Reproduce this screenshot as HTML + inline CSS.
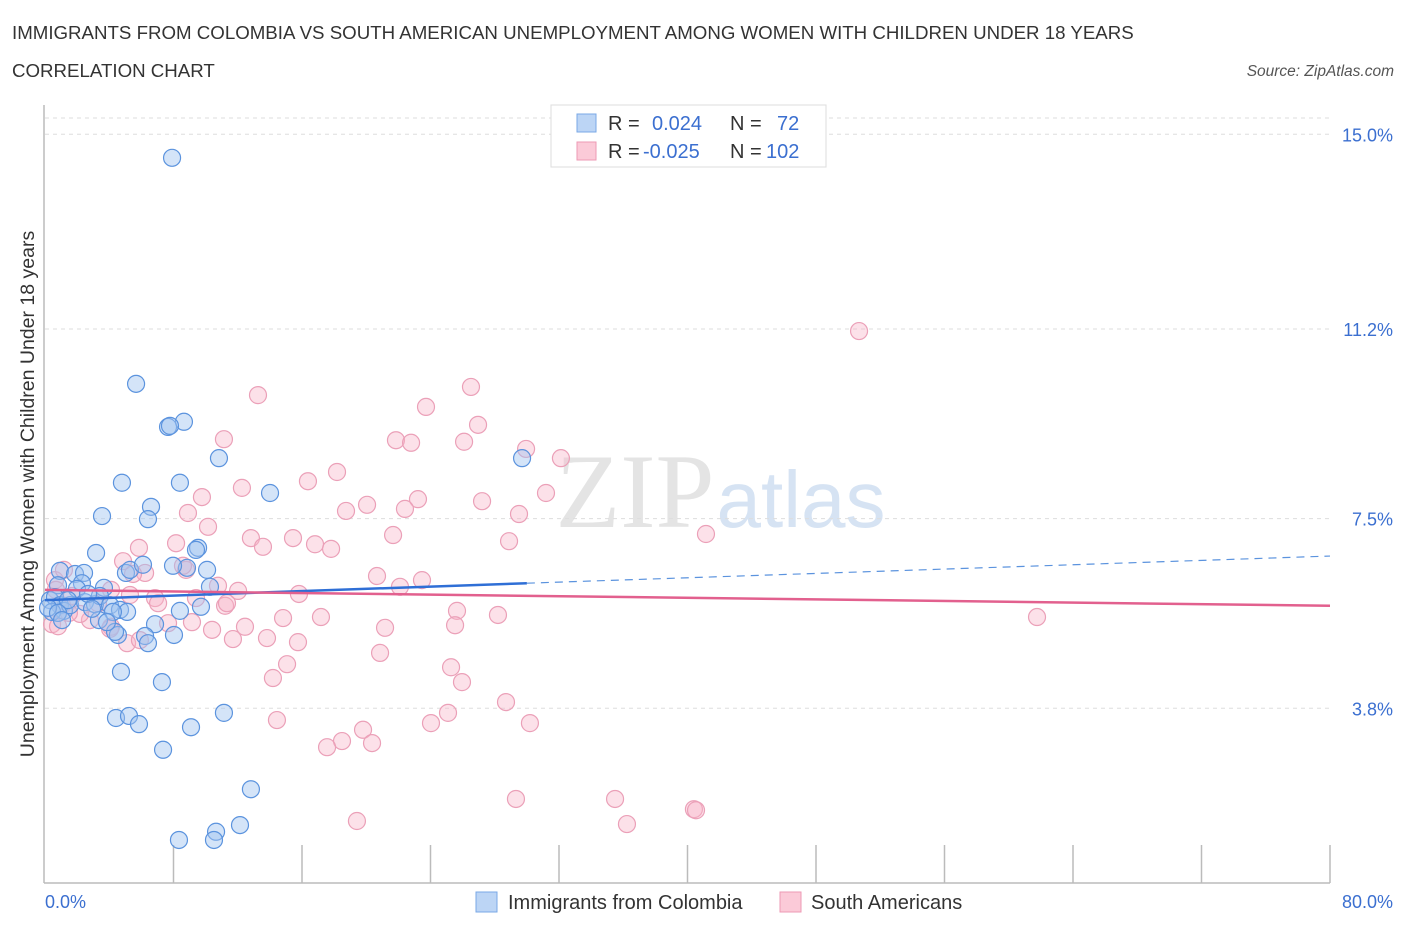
<!DOCTYPE html>
<html><head><meta charset="utf-8"><style>
body{margin:0;background:#fff;width:1406px;height:930px;overflow:hidden;font-family:"Liberation Sans",sans-serif}
svg{display:block}
</style></head><body>
<svg id="c" width="1406" height="930">
<text x="12" y="39" font-size="18.7" fill="#333">IMMIGRANTS FROM COLOMBIA VS SOUTH AMERICAN UNEMPLOYMENT AMONG WOMEN WITH CHILDREN UNDER 18 YEARS</text>
<text x="12" y="77" font-size="18.7" fill="#333">CORRELATION CHART</text>
<text x="1394" y="76" font-size="15.5" fill="#555" font-style="italic" text-anchor="end">Source: ZipAtlas.com</text>
<text x="635" y="527" font-size="106" fill="#e4e4e4" font-family="Liberation Serif,serif" text-anchor="middle">ZIP</text>
<text x="801" y="527" font-size="80" fill="#d6e3f3" text-anchor="middle">atlas</text>
<text transform="translate(34,494) rotate(-90)" font-size="19.5" fill="#333" text-anchor="middle">Unemployment Among Women with Children Under 18 years</text>
<g id="grid"></g><g id="marks"></g>
<g>
<rect x="551" y="105" width="275" height="62" fill="#fff" stroke="#ddd"/>
<rect x="577" y="114" width="19" height="18" fill="#bcd5f5" stroke="#7aa8e6"/>
<rect x="577" y="142" width="19" height="18" fill="#fbcad8" stroke="#ee9ab4"/>
<text x="608" y="130" font-size="20" fill="#333">R =</text><text x="652" y="130" font-size="20" fill="#3b6fd0">0.024</text>
<text x="730" y="130" font-size="20" fill="#333">N =</text><text x="777" y="130" font-size="20" fill="#3b6fd0">72</text>
<text x="608" y="158" font-size="20" fill="#333">R =</text><text x="643" y="158" font-size="20" fill="#3b6fd0">-0.025</text>
<text x="730" y="158" font-size="20" fill="#333">N =</text><text x="766" y="158" font-size="20" fill="#3b6fd0">102</text>
</g>
<g>
<rect x="476" y="892" width="21" height="20" fill="#bcd5f5" stroke="#7aa8e6"/>
<text x="508" y="909" font-size="20" fill="#333">Immigrants from Colombia</text>
<rect x="780" y="892" width="21" height="20" fill="#fbcad8" stroke="#ee9ab4"/>
<text x="811" y="909" font-size="20" fill="#333">South Americans</text>
</g>
</svg>
<script>
const yTicks=[3.8,7.5,11.2,15.0];
const yTickLabels=["3.8%","7.5%","11.2%","15.0%"];
const xTickLabels=["0.0%","80.0%"];
const bluePx=[[172,158],[136,384],[184,422],[168,427],[170,426],[219,458],[122,483],[180,483],[270,493],[151,507],[102,516],[148,519],[96,553],[198,548],[196,550],[60,571],[75,574],[84,573],[126,573],[130,570],[143,565],[187,568],[173,566],[207,570],[210,587],[104,588],[82,583],[77,589],[58,585],[50,600],[55,597],[60,605],[64,611],[70,605],[85,602],[95,604],[100,596],[110,605],[120,610],[127,612],[113,612],[180,611],[201,607],[155,624],[118,635],[115,632],[145,636],[148,643],[174,635],[121,672],[162,682],[116,718],[129,716],[139,724],[191,727],[224,713],[163,750],[251,789],[179,840],[216,832],[214,840],[240,825],[522,458],[52,612],[48,608],[88,594],[68,600],[99,620],[107,622],[58,613],[62,620],[92,609]];
const pinkPx=[[859,331],[258,395],[471,387],[426,407],[478,425],[224,439],[396,440],[411,443],[464,442],[526,449],[561,458],[337,472],[242,488],[308,481],[546,493],[202,497],[418,499],[482,501],[367,505],[405,509],[346,511],[188,513],[519,514],[208,527],[706,534],[393,535],[293,538],[251,538],[263,547],[315,544],[331,549],[509,541],[139,548],[176,543],[123,561],[145,573],[186,570],[183,566],[377,576],[422,580],[400,587],[299,594],[238,591],[111,590],[155,598],[158,603],[225,606],[227,603],[196,598],[283,618],[321,617],[457,611],[498,615],[1037,617],[98,603],[90,620],[80,614],[69,613],[62,605],[52,624],[58,626],[111,627],[110,629],[192,622],[212,630],[245,627],[385,628],[455,625],[233,639],[267,638],[298,642],[127,643],[140,640],[380,653],[287,664],[451,667],[462,682],[273,678],[506,702],[448,713],[277,720],[431,723],[530,723],[363,730],[342,741],[372,743],[327,747],[516,799],[615,799],[694,809],[696,810],[357,821],[627,824],[55,580],[64,570],[56,590],[72,596],[130,595],[168,623],[218,586],[133,574]];
const blueX=bluePx.map(p=>+((p[0]-45)/16.0625).toFixed(2));
const blueY=bluePx.map(p=>+((903-p[1])/51.25).toFixed(2));
const pinkX=pinkPx.map(p=>+((p[0]-45)/16.0625).toFixed(2));
const pinkY=pinkPx.map(p=>+((903-p[1])/51.25).toFixed(2));
const blueTrend=[5.91,6.24,6.77];
const pinkTrend=[6.11,5.8];
const sx=v=>45+v*16.0625, sy=v=>903-v*51.25;
const NS="http://www.w3.org/2000/svg";
function mk(tag,at,parent){const e=document.createElementNS(NS,tag);for(const k in at)e.setAttribute(k,at[k]);parent.appendChild(e);return e;}
const g=document.getElementById('grid'),m=document.getElementById('marks');
yTicks.forEach((t,i)=>{
 const l=mk('line',{x1:45,x2:1330,y1:sy(t),y2:sy(t),stroke:'#ddd','stroke-dasharray':'4,4'},g);
 
 
 const tx=mk('text',{x:1393,y:sy(t)+7,'font-size':18,fill:'#3b6fd0','text-anchor':'end'},g);tx.textContent=yTickLabels[i];
 
 
});
mk('line',{x1:45,x2:1330,y1:118,y2:118,stroke:'#ddd','stroke-dasharray':'4,4'},g);
mk('line',{x1:44,x2:44,y1:105,y2:883,stroke:'#bbb','stroke-width':1.5},g);
mk('line',{x1:44,x2:1330,y1:883,y2:883,stroke:'#bbb','stroke-width':1.5},g);
for(let i=1;i<=10;i++){const x=sx(i*8);const t=mk('line',{x1:x,x2:x,y1:845,y2:883,stroke:'#bbb','stroke-width':1.5},g);
 
 }
const xl0=mk('text',{x:45,y:908,'font-size':18,fill:'#3b6fd0'},g);xl0.textContent=xTickLabels[0];


const xl1=mk('text',{x:1393,y:908,'font-size':18,fill:'#3b6fd0','text-anchor':'end'},g);xl1.textContent=xTickLabels[1];


pinkX.forEach((x,i)=>{const c=mk('circle',{cx:sx(x),cy:sy(pinkY[i]),r:8.5,fill:'rgba(248,180,200,0.4)',stroke:'#eba0b8','stroke-width':1.2},m);
 
 });
blueX.forEach((x,i)=>{const c=mk('circle',{cx:sx(x),cy:sy(blueY[i]),r:8.5,fill:'rgba(160,195,240,0.45)',stroke:'#5b93de','stroke-width':1.2},m);
 
 });
const bl=mk('line',{x1:sx(0),y1:sy(blueTrend[0]),x2:sx(30),y2:sy(blueTrend[1]),stroke:'#2f6fd6','stroke-width':2.5},m);


const bd=mk('line',{x1:sx(30),y1:sy(blueTrend[1]),x2:sx(80),y2:sy(blueTrend[2]),stroke:'#5b93de','stroke-width':1.2,'stroke-dasharray':'8,6'},m);


const pl=mk('line',{x1:sx(0),y1:sy(pinkTrend[0]),x2:sx(80),y2:sy(pinkTrend[1]),stroke:'#e2608e','stroke-width':2.5},m);


</script>
</body></html>
